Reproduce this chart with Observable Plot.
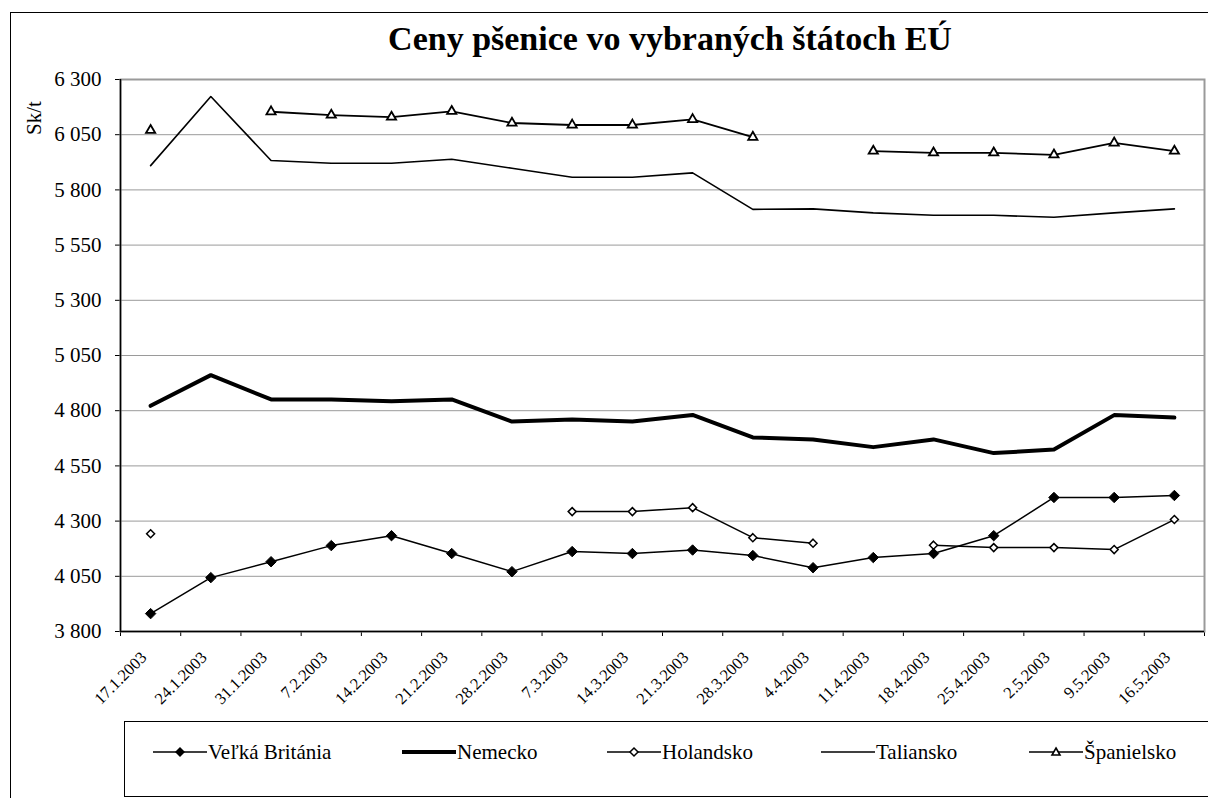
<!DOCTYPE html>
<html>
<head>
<meta charset="utf-8">
<script src="https://cdn.jsdelivr.net/npm/d3@7"></script>
<script src="https://cdn.jsdelivr.net/npm/@observablehq/plot@0.6"></script>
<style>
  html, body { margin: 0; padding: 0; background: #fff; }
  #wrap { position: relative; width: 1208px; height: 798px; overflow: hidden; background: #fff; font-family: "Liberation Serif", "DejaVu Serif", serif; color: #000; }
  #outer { position: absolute; left: 10px; top: 12px; width: 1400px; height: 1000px; border: 1.5px solid #000; box-sizing: border-box; }
  #chart { position: absolute; left: 0; top: 0; }
  #title { position: absolute; left: 0; top: 22px; width: 1340px; text-align: center; font-weight: bold; font-size: 34px; line-height: 34px; white-space: nowrap; }
  #ylab { position: absolute; left: 34px; top: 118px; transform: translate(-50%, -50%) rotate(-90deg); font-size: 21px; line-height: 21px; white-space: nowrap; }
  #legend { position: absolute; left: 124px; top: 721px; width: 1200px; height: 76px; border: 1.5px solid #000; box-sizing: border-box; }
  .item { position: absolute; top: 741px; height: 22px; display: flex; align-items: center; font-size: 21px; line-height: 22px; white-space: nowrap; }
  .item svg { display: block; margin-right: 1px; }
</style>
</head>
<body>
<div id="wrap">
  <div id="outer"></div>
  <div id="chart"></div>
  <div id="title"></div>
  <div id="ylab"></div>
  <div id="legend"></div>
</div>
<script>
// ---- data ----
const title = "Ceny pšenice vo vybraných štátoch EÚ";
const yLabel = "Sk/t";
const dates = ["17.1.2003","24.1.2003","31.1.2003","7.2.2003","14.2.2003","21.2.2003","28.2.2003","7.3.2003","14.3.2003","21.3.2003","28.3.2003","4.4.2003","11.4.2003","18.4.2003","25.4.2003","2.5.2003","9.5.2003","16.5.2003"];
const seriesNames = ["Veľká Británia", "Nemecko", "Holandsko", "Taliansko", "Španielsko"];
const velkaBritania = [3881,4044,4116,4189,4234,4153,4071,4162,4153,4169,4144,4089,4135,4153,4234,4407,4407,4416];
const nemecko = [4822,4961,4851,4851,4843,4851,4751,4760,4751,4781,4679,4670,4635,4670,4608,4624,4780,4769];
const holandsko = [4243,null,null,null,null,null,null,4343,4343,4361,4225,4200,null,4191,4180,4180,4171,4307];
const taliansko = [5910,6223,5933,5921,5921,5939,5898,5857,5857,5877,5712,5714,5696,5685,5685,5676,5696,5714];
const spanielsko = [6070,null,6154,6139,6130,6156,6103,6094,6094,6119,6039,null,5976,5968,5968,5959,6013,5976];
const yTicks = [3800,4050,4300,4550,4800,5050,5300,5550,5800,6050,6300];

// ---- helpers ----
const rows = (vals) => vals.map((v, i) => ({i, date: dates[i], value: v}));
const fmt = d3.formatLocale({decimal: ",", thousands: " ", grouping: [3], currency: ["", ""]}).format(",");
const bounds = d3.range(dates.length + 1).map(k => k - 0.5);
const serif = "'Liberation Serif', 'DejaVu Serif', serif";

const VB = rows(velkaBritania), DE = rows(nemecko), NL = rows(holandsko), IT = rows(taliansko), ES = rows(spanielsko);

const chart = Plot.plot({
  width: 1208,
  height: 798,
  marginLeft: 120,
  marginRight: 4,
  marginTop: 79,
  marginBottom: 167,
  style: "background: transparent; font-family: 'Liberation Serif', 'DejaVu Serif', serif; font-size: 21px; color: #000;",
  x: {domain: [-0.5, dates.length - 0.5], ticks: bounds, tickFormat: () => "", tickSize: 5, label: null},
  y: {domain: [3800, 6300], ticks: yTicks, tickFormat: fmt, tickSize: 5, tickPadding: 14, label: null},
  marks: [
    Plot.ruleY(yTicks, {stroke: "#9a9a9a", strokeWidth: 1}),
    Plot.frame({stroke: "#9a9a9a", strokeWidth: 2}),
    Plot.ruleY([3800], {stroke: "#000", strokeWidth: 1.5}),
    Plot.ruleX([-0.5], {stroke: "#000", strokeWidth: 1.5}),
    Plot.line(IT, {x: "i", y: "value", stroke: "#000", strokeWidth: 1.6}),
    Plot.line(ES, {x: "i", y: "value", stroke: "#000", strokeWidth: 1.8}),
    Plot.dot(ES, {x: "i", y: "value", symbol: "triangle2", r: 4.4, fill: "#fff", stroke: "#000", strokeWidth: 1.8}),
    Plot.line(DE, {x: "i", y: "value", stroke: "#000", strokeWidth: 4}),
    Plot.line(NL, {x: "i", y: "value", stroke: "#000", strokeWidth: 1.5}),
    Plot.dot(NL, {x: "i", y: "value", symbol: "diamond2", r: 3.6, fill: "#fff", stroke: "#000", strokeWidth: 1.5}),
    Plot.line(VB, {x: "i", y: "value", stroke: "#000", strokeWidth: 1.5}),
    Plot.dot(VB, {x: "i", y: "value", symbol: "diamond2", r: 4.7, fill: "#000", stroke: "#000", strokeWidth: 1}),
    Plot.text(dates, {x: (d, i) => i, frameAnchor: "bottom", rotate: -45, textAnchor: "end", dy: 27, dx: -3, fontSize: 16.5, fontFamily: serif, fill: "#000"})
  ]
});
document.getElementById("chart").appendChild(chart);
document.getElementById("title").textContent = title;
document.getElementById("ylab").textContent = yLabel;

// ---- legend ----
const legendLeft = [153, 402, 607, 821, 1029];
const legendStyles = [
  {w: 1.5, marker: "fdiamond"},
  {w: 4, marker: null},
  {w: 1.5, marker: "odiamond"},
  {w: 1.5, marker: null},
  {w: 1.5, marker: "triangle"}
];
const wrap = document.getElementById("wrap");
seriesNames.forEach((name, k) => {
  const st = legendStyles[k];
  const item = document.createElement("div");
  item.className = "item";
  item.style.left = legendLeft[k] + "px";
  let m = "";
  if (st.marker === "fdiamond") m = '<path d="M27,6 L32,11 L27,16 L22,11 Z" fill="#000"/>';
  if (st.marker === "odiamond") m = '<path d="M27,7 L31,11 L27,15 L23,11 Z" fill="#fff" stroke="#000" stroke-width="1.5"/>';
  if (st.marker === "triangle") m = '<path d="M27,7 L31,14 L23,14 Z" fill="#fff" stroke="#000" stroke-width="1.6"/>';
  item.innerHTML = '<svg width="54" height="22"><line x1="0" y1="11" x2="54" y2="11" stroke="#000" stroke-width="' + st.w + '"/>' + m + '</svg><span></span>';
  item.querySelector("span").textContent = name;
  wrap.appendChild(item);
});
</script>
</body>
</html>
